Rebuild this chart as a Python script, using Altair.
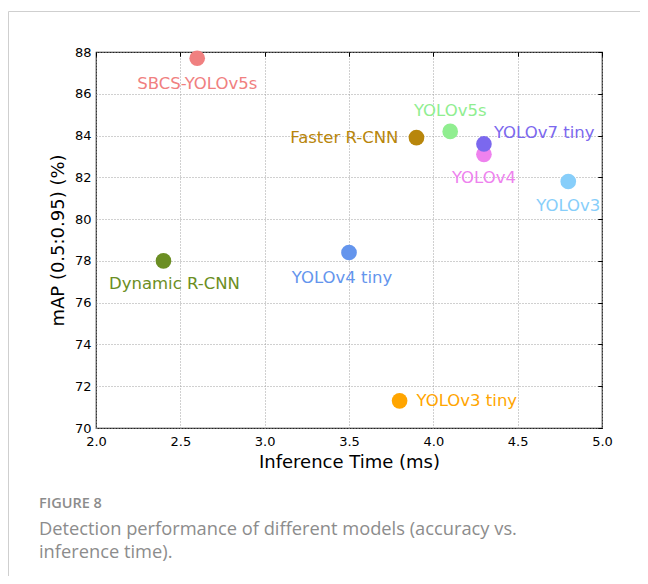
import altair as alt
import pandas as pd

# ---- data ----
models = ["SBCS-YOLOv5s", "Faster R-CNN", "YOLOv5s", "YOLOv4", "YOLOv7 tiny",
          "YOLOv3", "Dynamic R-CNN", "YOLOv4 tiny", "YOLOv3 tiny"]
inference_ms = [2.6, 3.9, 4.1, 4.3, 4.3, 4.8, 2.4, 3.5, 3.8]
map_values = [87.7, 83.9, 84.2, 83.1, 83.6, 81.8, 78.0, 78.4, 71.3]
colors = ["#F08080", "#B8860B", "#90EE90", "#EE82EE", "#7B68EE",
          "#87CEFA", "#6B8E23", "#6495ED", "#FFA500"]
x_ticks = [2.0, 2.5, 3.0, 3.5, 4.0, 4.5, 5.0]
y_ticks = [70, 72, 74, 76, 78, 80, 82, 84, 86, 88]
caption_head = "FIGURE 8"
caption_lines = ["Detection performance of different models (accuracy vs.",
                 "inference time)."]

df = pd.DataFrame({"model": models, "time": inference_ms, "map": map_values})

FONT = "DejaVu Sans"
xs = alt.Scale(domain=[2, 5], nice=False, zero=False)
ys = alt.Scale(domain=[70, 88], nice=False, zero=False)
cs = alt.Scale(domain=models, range=colors)

base = alt.Chart(df)

# points with labelled axes + dotted grid
x_main = alt.X("time:Q", scale=xs, axis=alt.Axis(
    values=x_ticks, format=".1f", title="Inference Time (ms)", grid=True,
    gridDash=[1, 2], gridColor="#a0a0a0", gridWidth=1, ticks=False, domain=False,
    labelPadding=7, labelFontSize=13, labelFont=FONT, labelColor="#000",
    labelFlush=False, labelOverlap=False, titleFont=FONT, titleFontSize=18,
    titleFontWeight="normal", titleColor="#000", titlePadding=5))
y_main = alt.Y("map:Q", scale=ys, axis=alt.Axis(
    values=y_ticks, format="d", title="mAP (0.5:0.95) (%)", grid=True,
    gridDash=[1, 2], gridColor="#a0a0a0", gridWidth=1, ticks=False, domain=False,
    labelPadding=5, labelFontSize=13, labelFont=FONT, labelColor="#000",
    labelFlush=False, labelOverlap=False, titleFont=FONT, titleFontSize=18,
    titleFontWeight="normal", titleColor="#000", titlePadding=7))

points = base.mark_circle(size=245, opacity=1).encode(
    x=x_main, y=y_main,
    color=alt.Color("model:N", scale=cs, legend=None),
)

# inward ticks: bottom/left
ticks_bl = base.mark_point(opacity=0).encode(
    x=alt.X("time:Q", scale=xs, axis=alt.Axis(
        values=x_ticks, labels=False, ticks=True, tickSize=4, tickColor="#000",
        domain=False, grid=False, offset=-4, title="")),
    y=alt.Y("map:Q", scale=ys, axis=alt.Axis(
        values=y_ticks, labels=False, ticks=True, tickSize=4, tickColor="#000",
        domain=False, grid=False, offset=-4, title="")),
)
# inward ticks: top/right
ticks_tr = base.mark_point(opacity=0).encode(
    x=alt.X("time:Q", scale=xs, axis=alt.Axis(
        orient="top", values=x_ticks, labels=False, ticks=True, tickSize=4,
        tickColor="#000", domain=False, grid=False, offset=-4, title="")),
    y=alt.Y("map:Q", scale=ys, axis=alt.Axis(
        orient="right", values=y_ticks, labels=False, ticks=True, tickSize=4,
        tickColor="#000", domain=False, grid=False, offset=-4, title="")),
)

# point labels (style: offsets per label)
placements = [
    (["SBCS-YOLOv5s"], 0, 26, "center"),
    (["YOLOv4", "YOLOv3"], 0, 24, "center"),
    (["Dynamic R-CNN"], 11, 23, "center"),
    (["YOLOv4 tiny"], -7, 25, "center"),
    (["YOLOv5s"], 0, -20, "center"),
    (["Faster R-CNN"], -18, 0, "right"),
    (["YOLOv7 tiny"], 10, -11, "left"),
    (["YOLOv3 tiny"], 17, 0, "left"),
]
label_layers = []
for names, dx, dy, align in placements:
    label_layers.append(
        base.transform_filter(alt.FieldOneOfPredicate(field="model", oneOf=names))
        .mark_text(dx=dx, dy=dy, align=align, baseline="middle",
                   font=FONT, fontSize=16.5)
        .encode(x=alt.X("time:Q", scale=xs, axis=None),
                y=alt.Y("map:Q", scale=ys, axis=None),
                text="model:N",
                color=alt.Color("model:N", scale=cs, legend=None))
    )

one = alt.Chart(pd.DataFrame({"k": [0]}))
border_left = one.mark_rule(color="#cfcfcf", strokeWidth=1).encode(
    x=alt.value(-87.5), y=alt.value(-40.5), y2=alt.value(530))
border_top = one.mark_rule(color="#cfcfcf", strokeWidth=1).encode(
    x=alt.value(-87.5), x2=alt.value(550), y=alt.value(-40.5))

cap1 = one.mark_text(align="left", baseline="middle", font="Open Sans",
                     fontSize=14.5, fontWeight=600, color="#8c8c8c").encode(
    text=alt.value(caption_head), x=alt.value(-57), y=alt.value(452))
cap2 = one.mark_text(align="left", baseline="middle", font="Open Sans",
                     fontSize=18.3, color="#8c8c8c", lineHeight=23).encode(
    text=alt.value(caption_lines), x=alt.value(-57), y=alt.value(478))

chart = alt.layer(
    border_left, border_top, points, ticks_bl, ticks_tr, *label_layers, cap1, cap2
).resolve_axis(x="independent", y="independent").properties(
    width=506, height=376, autosize="none",
    padding={"left": 88, "top": 44, "right": 38, "bottom": 148},
).configure_view(stroke="#222", strokeWidth=1.2)

chart.save("out.html", embed_options={"renderer": "svg", "actions": False})
